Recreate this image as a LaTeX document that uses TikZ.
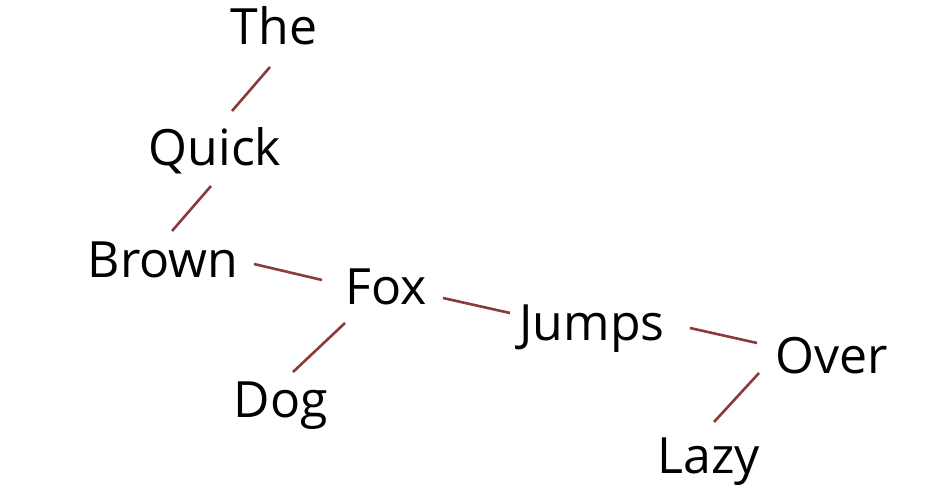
\documentclass[tikz,border=0pt]{standalone}
\usepackage{fontspec}
\setmainfont{Open Sans}
\definecolor{linkred}{HTML}{8B3A3A}
\begin{document}
\begin{tikzpicture}[x=1pt,y=-1pt,
  word/.style={anchor=base,inner sep=0pt,font=\fontsize{50}{58}\selectfont,text=black},
  link/.style={draw=linkred,line width=2.6pt}]
\useasboundingbox[fill=white] (0,0) rectangle (936,502);
\node[word] (The)   at (274,45)  {The};
\node[word] (Quick) at (215,166) {Quick};
\node[word] (Brown) at (163,278) {Brown};
\node[word] (Fox)   at (386,305) {Fox};
\node[word] (Dog)   at (281,417) {Dog};
\node[word] (Jumps) at (592,340) {Jumps};
\node[word] (Over)  at (832,373) {Over};
\node[word] (Lazy)  at (709,473) {Lazy};
\draw[link] ([shift={(-4,22)}]The.base) -- ([shift={(17,-55)}]Quick.base);
\draw[link] ([shift={(-4,20)}]Quick.base) -- ([shift={(9,-47)}]Brown.base);
\draw[link] ([shift={(91,-14)}]Brown.base) -- ([shift={(-64,-25)}]Fox.base);
\draw[link] ([shift={(-41,18)}]Fox.base) -- ([shift={(12,-45)}]Dog.base);
\draw[link] ([shift={(57,-7)}]Fox.base) -- ([shift={(-82,-27)}]Jumps.base);
\draw[link] ([shift={(98,-12)}]Jumps.base) -- ([shift={(-75,-30)}]Over.base);
\draw[link] ([shift={(-73,0)}]Over.base) -- ([shift={(5,-51)}]Lazy.base);
\end{tikzpicture}
\end{document}
